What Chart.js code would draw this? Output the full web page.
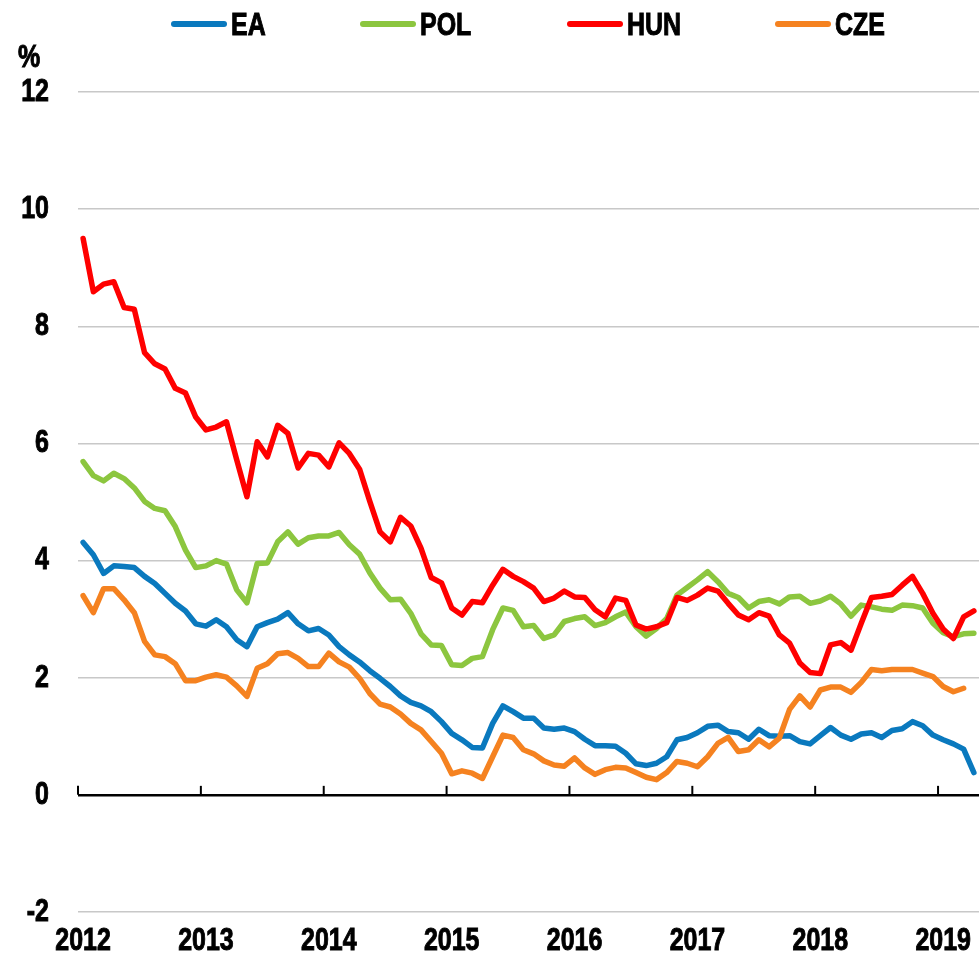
<!DOCTYPE html>
<html>
<head>
<meta charset="utf-8">
<title>Unemployment / inflation comparison</title>
<script src="https://cdn.jsdelivr.net/npm/chart.js@4.4.1/dist/chart.umd.min.js"></script>
<style>
  html, body { margin: 0; padding: 0; background: #fff; }
  #wrap { position: relative; width: 979px; height: 953px; }
  .narrow {
    font: bold 32px 'Liberation Sans', Arial, sans-serif;
    line-height: 32px; color: #000;
    -webkit-text-stroke: 1px #000;
    display: inline-block; transform: scaleX(0.78); transform-origin: left center;
    white-space: nowrap;
  }
  .legend-item { position: absolute; top: 8px; height: 32px; }
  .legend-item .swatch { position: absolute; left: 0; top: 13px; width: 56px; height: 6px; border-radius: 3px; }
  .legend-item .narrow { position: absolute; left: 60px; top: 0; }
  #unit { position: absolute; left: 18px; top: 40px; }
</style>
</head>
<body>
<div id="wrap">
  <canvas id="chart" width="979" height="953"></canvas>
  <div id="legend"></div>
  <div id="unit" class="narrow">%</div>
</div>
<script>
// monthly series, Jan 2012 .. Apr 2019
const years = ['2012', '2013', '2014', '2015', '2016', '2017', '2018', '2019'];
const monthNames = ['Jan', 'Feb', 'Mar', 'Apr', 'May', 'Jun', 'Jul', 'Aug', 'Sep', 'Oct', 'Nov', 'Dec'];

const seriesNames = ['EA', 'POL', 'HUN', 'CZE'];
const seriesColors = ['#0a79be', '#8cc63f', '#ff0000', '#f58220'];

const eaValues = [
  4.31, 4.10, 3.78, 3.91, 3.90, 3.88, 3.73, 3.61, 3.44, 3.27, 3.14, 2.92,
  2.88, 2.99, 2.87, 2.65, 2.53, 2.87, 2.94, 3.00, 3.11, 2.92, 2.80, 2.84,
  2.73, 2.53, 2.39, 2.27, 2.12, 1.99, 1.85, 1.69, 1.58, 1.52, 1.42, 1.25,
  1.05, 0.94, 0.81, 0.80, 1.22, 1.52, 1.42, 1.31, 1.31, 1.14, 1.12, 1.14,
  1.08, 0.95, 0.84, 0.84, 0.83, 0.71, 0.53, 0.50, 0.54, 0.65, 0.94, 0.98,
  1.06, 1.17, 1.19, 1.08, 1.06, 0.95, 1.12, 1.01, 1.00, 1.01, 0.91, 0.87,
  1.01, 1.15, 1.02, 0.95, 1.04, 1.06, 0.98, 1.10, 1.13, 1.25, 1.18, 1.02,
  0.94, 0.87, 0.78, 0.38
];
const polValues = [
  5.69, 5.45, 5.36, 5.49, 5.40, 5.24, 5.01, 4.89, 4.85, 4.58, 4.18, 3.88,
  3.91, 4.00, 3.94, 3.50, 3.28, 3.95, 3.96, 4.32, 4.49, 4.28, 4.39, 4.42,
  4.42, 4.48, 4.27, 4.11, 3.79, 3.53, 3.33, 3.34, 3.10, 2.75, 2.56, 2.55,
  2.22, 2.21, 2.33, 2.36, 2.82, 3.19, 3.15, 2.87, 2.89, 2.67, 2.73, 2.96,
  3.01, 3.04, 2.89, 2.94, 3.04, 3.12, 2.87, 2.71, 2.84, 3.01, 3.41, 3.54,
  3.67, 3.81, 3.64, 3.44, 3.37, 3.19, 3.30, 3.33, 3.26, 3.38, 3.39, 3.27,
  3.31, 3.39, 3.26, 3.05, 3.24, 3.21, 3.17, 3.15, 3.24, 3.23, 3.19, 2.93,
  2.77, 2.70, 2.75, 2.76
];
const hunValues = [
  9.50, 8.59, 8.72, 8.76, 8.32, 8.29, 7.55, 7.36, 7.27, 6.94, 6.86, 6.45,
  6.23, 6.28, 6.37, 5.72, 5.09, 6.03, 5.77, 6.31, 6.17, 5.58, 5.83, 5.80,
  5.60, 6.01, 5.83, 5.56, 5.01, 4.49, 4.32, 4.74, 4.59, 4.21, 3.71, 3.62,
  3.19, 3.07, 3.30, 3.28, 3.58, 3.85, 3.73, 3.64, 3.53, 3.30, 3.36, 3.48,
  3.38, 3.37, 3.16, 3.04, 3.36, 3.32, 2.90, 2.83, 2.87, 2.94, 3.37, 3.32,
  3.41, 3.53, 3.48, 3.27, 3.07, 2.99, 3.11, 3.05, 2.73, 2.59, 2.25, 2.09,
  2.07, 2.56, 2.60, 2.47, 2.93, 3.37, 3.39, 3.42, 3.58, 3.73, 3.44, 3.10,
  2.83, 2.67, 3.04, 3.14
];
const czeValues = [
  3.40, 3.11, 3.52, 3.52, 3.33, 3.11, 2.62, 2.39, 2.36, 2.24, 1.95, 1.95,
  2.01, 2.05, 2.01, 1.86, 1.68, 2.16, 2.24, 2.41, 2.43, 2.33, 2.19, 2.19,
  2.42, 2.27, 2.18, 1.99, 1.73, 1.55, 1.50, 1.38, 1.22, 1.11, 0.91, 0.71,
  0.36, 0.41, 0.37, 0.28, 0.65, 1.02, 0.98, 0.77, 0.70, 0.58, 0.51, 0.49,
  0.63, 0.46, 0.35, 0.43, 0.47, 0.46, 0.38, 0.30, 0.26, 0.38, 0.57, 0.54,
  0.48, 0.65, 0.88, 0.98, 0.74, 0.77, 0.94, 0.82, 0.97, 1.46, 1.69, 1.50,
  1.79, 1.84, 1.84, 1.75, 1.92, 2.14, 2.12, 2.14, 2.14, 2.14, 2.08, 2.02,
  1.85, 1.76, 1.82
];

const yTickMin = -2;
const yTickMax = 12;
const yTickStep = 2;

// Arial Narrow look: bold sans squeezed horizontally
const FONT = "'Liberation Sans', Arial, sans-serif";
const LABEL_SIZE = 32;
const SQUEEZE = 0.78;

const monthLabels = years.flatMap(y => monthNames.map(m => m + ' ' + y)).slice(0, eaValues.length);
const allValues = [eaValues, polValues, hunValues, czeValues];

// html legend, laid out like the source
const legendLefts = [171, 360, 567, 775];
const legendEl = document.getElementById('legend');
seriesNames.forEach((name, i) => {
  const item = document.createElement('div');
  item.className = 'legend-item';
  item.style.left = legendLefts[i] + 'px';
  item.innerHTML = `<span class="swatch" style="background:${seriesColors[i]}"></span><span class="narrow">${name}</span>`;
  legendEl.appendChild(item);
});

function drawNarrow(ctx, text, x, y) {
  ctx.save();
  ctx.translate(x, y);
  ctx.scale(SQUEEZE, 1);
  ctx.fillText(text, 0, 0);
  ctx.strokeText(text, 0, 0);   // a touch heavier, closer to the source font
  ctx.restore();
}

// small upward tick marks on the zero line at each year boundary
const yearTicks = {
  id: 'yearTicks',
  beforeDatasetsDraw(chart) {
    const { ctx, scales: { x, y } } = chart;
    const y0 = y.getPixelForValue(0);
    const half = (x.getPixelForValue(1) - x.getPixelForValue(0)) / 2;
    ctx.save();
    ctx.strokeStyle = '#000';
    ctx.lineWidth = 2;
    for (let i = 0; i < monthLabels.length; i += 12) {
      const px = x.getPixelForValue(i) - half;
      ctx.beginPath();
      ctx.moveTo(px, y0);
      ctx.lineTo(px, y0 - 9);
      ctx.stroke();
    }
    ctx.restore();
  }
};

// axis labels in the condensed style, placed through the scales
const narrowLabels = {
  id: 'narrowLabels',
  afterDraw(chart) {
    const { ctx, scales: { x, y } } = chart;
    ctx.save();
    ctx.fillStyle = '#000';
    ctx.strokeStyle = '#000';
    ctx.lineWidth = 1;
    ctx.font = `bold ${LABEL_SIZE}px ${FONT}`;
    ctx.textBaseline = 'middle';
    ctx.textAlign = 'right';
    y.ticks.forEach(t => drawNarrow(ctx, String(t.value), y.right - 29, y.getPixelForValue(t.value)));
    ctx.textAlign = 'center';
    years.forEach((yr, k) => drawNarrow(ctx, yr, x.getPixelForValue(k * 12), x.top + 29));
    ctx.restore();
  }
};

new Chart(document.getElementById('chart'), {
  type: 'line',
  data: {
    labels: monthLabels,
    datasets: seriesNames.map((name, i) => ({
      label: name,
      data: allValues[i],
      borderColor: seriesColors[i],
      backgroundColor: seriesColors[i],
      borderWidth: 5.5,
      borderJoinStyle: 'round',
      borderCapStyle: 'round',
      pointRadius: 0,
      tension: 0,
      fill: false,
      order: seriesNames.length - i   // later series drawn on top, like the source
    }))
  },
  options: {
    responsive: false,
    animation: false,
    layout: { padding: { top: 92, right: 0, bottom: 0, left: 0 } },
    plugins: {
      legend: { display: false },
      tooltip: { enabled: false }
    },
    scales: {
      x: {
        type: 'category',
        offset: true,
        grid: { display: false, drawTicks: false },
        border: { display: false },
        afterFit: s => { s.height = 41; },
        ticks: { display: false, autoSkip: false }
      },
      y: {
        min: yTickMin,
        max: yTickMax,
        afterFit: s => { s.width = 78; },
        border: { display: false },
        grid: {
          drawTicks: false,
          color: c => (c.tick.value === 0 ? '#000' : '#c8c8c8'),
          lineWidth: c => (c.tick.value === 0 ? 2.5 : 1.5)
        },
        ticks: { display: false, stepSize: yTickStep }
      }
    }
  },
  plugins: [yearTicks, narrowLabels]
});
</script>
</body>
</html>
